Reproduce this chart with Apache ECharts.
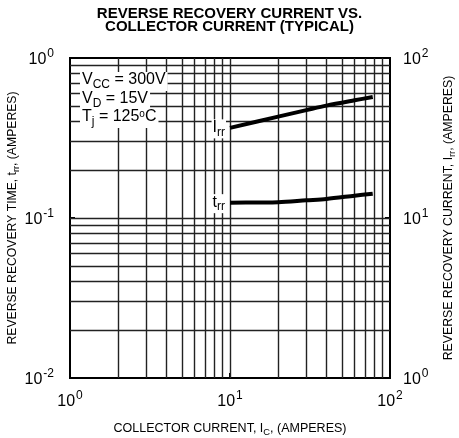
<!DOCTYPE html>
<html>
<head>
<meta charset="utf-8">
<script src="https://cdn.jsdelivr.net/npm/echarts@6/dist/echarts.min.js"></script>
<style>
html,body{margin:0;padding:0;background:#fff;}
#chart{width:459px;height:438px;}
</style>
</head>
<body>
<div id="chart"></div>
<script>
// ---- data ----
const titleLines = ['REVERSE RECOVERY CURRENT VS.', 'COLLECTOR CURRENT (TYPICAL)'];
const xTickExp = ['0', '1', '2'];        // 10^0 .. 10^2
const leftTickExp = ['-2', '-1', '0'];   // 10^-2 .. 10^0
const rightTickExp = ['0', '1', '2'];    // 10^0 .. 10^2
const xMinorGrid = [2, 3, 4, 5, 6, 7, 8, 9, 20, 30, 40, 50, 60, 70, 80, 90];
const yMinorGrid = [0.02, 0.03, 0.04, 0.05, 0.06, 0.07, 0.08, 0.09, 0.2, 0.3, 0.4, 0.5, 0.6, 0.7, 0.8, 0.9];
const xMajorGrid = [10];
const yMajorGrid = [0.1];
const trrIc = [10, 15, 20, 30, 40, 60, 78];
const trrValues = [0.1247, 0.125, 0.1254, 0.129, 0.1315, 0.1378, 0.1419];
const irrIc = [10, 20, 30, 40, 60, 78];
const irrValues = [36.6, 43.0, 47.2, 50.4, 54.4, 57.0];
const conditions = [
  '{t|V}{sub|CC}{t| = 300V}',
  '{t|V}{sub|D}{t| = 15V}',
  '{t|T}{sub|j}{t| = 125}{sup|o}{t|C}'
];

const FONT = '"Liberation Sans", Arial, Helvetica, sans-serif';
const chart = echarts.init(document.getElementById('chart'), null, {renderer: 'canvas'});

function expLabel(arr, minExp) {
  return function (v) {
    const e = Math.round(Math.log10(v));
    const s = arr[e - minExp];
    return s === undefined ? '' : '{b|10}{s|' + s + '}';
  };
}
const tickRich = {
  b: {fontSize: 16, fontFamily: FONT, color: '#000', lineHeight: 20, verticalAlign: 'bottom'},
  s: {fontSize: 12, fontFamily: FONT, color: '#000', lineHeight: 20, verticalAlign: 'top', padding: [0, 0, 0, 1]}
};
function nameRich(size) {
  return {
    n: {fontSize: size, fontFamily: FONT, color: '#000', lineHeight: 16, verticalAlign: 'middle'},
    sub: {fontSize: size * 0.75, fontFamily: FONT, color: '#000', lineHeight: 16, verticalAlign: 'bottom'}
  };
}
const labRich = {
  t: {fontSize: 16, fontFamily: FONT, color: '#000', lineHeight: 19, verticalAlign: 'top'},
  sub: {fontSize: 12, fontFamily: FONT, color: '#000', lineHeight: 19, verticalAlign: 'bottom'},
  sup: {fontSize: 10, fontFamily: FONT, color: '#000', lineHeight: 19, verticalAlign: 'top'}
};
const gridLine = {color: '#222', width: 1.4, type: 'solid'};

function firstLabel(text) {
  return {show: true, position: 'left', distance: 4, offset: [0, 1], formatter: text, rich: labRich, backgroundColor: '#fff', padding: [0, 1, 0, 1]};
}

const option = {
  animation: false,
  backgroundColor: '#fff',
  title: {
    text: titleLines.join('\n'),
    left: 'center',
    top: 2,
    textStyle: {fontFamily: FONT, fontWeight: 'bold', fontSize: 15, lineHeight: 13.5, color: '#000'}
  },
  grid: {left: 70, top: 58, width: 320, height: 320, show: true, borderColor: '#000', borderWidth: 2,
    backgroundColor: 'transparent', containLabel: false, outerBoundsMode: 'none'},
  xAxis: {
    type: 'log', logBase: 10, min: 1, max: 100,
    name: '{n|COLLECTOR CURRENT, I}{sub|C}{n|, (AMPERES)}',
    nameLocation: 'middle', nameGap: 43, nameMoveOverlap: false,
    nameTextStyle: {rich: nameRich(12.5)},
    axisLine: {show: true, lineStyle: {color: '#000', width: 2}},
    axisTick: {show: true, inside: true, length: 5, lineStyle: {color: '#000', width: 2}},
    axisLabel: {formatter: expLabel(xTickExp, 0), rich: tickRich, margin: 12, showMinLabel: true, showMaxLabel: true},
    splitLine: {show: false},
    minorTick: {show: false}, minorSplitLine: {show: false}
  },
  yAxis: [{
    type: 'log', logBase: 10, min: 0.01, max: 1,
    name: '{n|REVERSE RECOVERY TIME, t}{sub|rr}{n|, (AMPERES)}',
    nameLocation: 'middle', nameGap: 49, nameRotate: 90, nameMoveOverlap: false,
    nameTextStyle: {rich: nameRich(12.2)},
    axisLine: {show: true, lineStyle: {color: '#000', width: 2}},
    axisTick: {show: true, inside: true, length: 5, lineStyle: {color: '#000', width: 2}},
    axisLabel: {formatter: expLabel(leftTickExp, -2), rich: tickRich, margin: 16, showMinLabel: true, showMaxLabel: true},
    splitLine: {show: false}
  }, {
    type: 'log', logBase: 10, min: 1, max: 100, position: 'right',
    name: '{n|REVERSE RECOVERY CURRENT, I}{sub|rr}{n|, (AMPERES)}',
    nameLocation: 'middle', nameGap: 51, nameRotate: 90, nameMoveOverlap: false,
    nameTextStyle: {rich: nameRich(12.3)},
    axisLine: {show: true, lineStyle: {color: '#000', width: 2}},
    axisTick: {show: true, inside: true, length: 5, lineStyle: {color: '#000', width: 2}},
    axisLabel: {formatter: expLabel(rightTickExp, 0), rich: tickRich, margin: 13, showMinLabel: true, showMaxLabel: true},
    splitLine: {show: false}
  }],
  series: [{
    name: 'grid', type: 'line', xAxisIndex: 0, yAxisIndex: 0, data: [], z: 1, silent: true,
    markLine: {
      silent: true, symbol: ['none', 'none'], animation: false,
      label: {show: false},
      lineStyle: gridLine,
      emphasis: {disabled: true},
      data: xMinorGrid.concat(xMajorGrid).map(v => ({xAxis: v}))
        .concat(yMinorGrid.concat(yMajorGrid).map(v => ({yAxis: v})))
    }
  }, {
    name: 'trr', type: 'line', xAxisIndex: 0, yAxisIndex: 0, z: 5,
    smooth: 0.3, showSymbol: true, symbol: 'circle', symbolSize: 0,
    itemStyle: {color: 'transparent'},
    lineStyle: {color: '#000', width: 4, cap: 'butt'},
    label: {show: false},
    data: trrIc.map((x, i) => {
      const p = {value: [x, trrValues[i]]};
      if (i === 0) p.label = firstLabel('{t|t}{sub|rr}');
      return p;
    })
  }, {
    name: 'Irr', type: 'line', xAxisIndex: 0, yAxisIndex: 1, z: 5,
    smooth: 0.3, showSymbol: true, symbol: 'circle', symbolSize: 0,
    itemStyle: {color: 'transparent'},
    lineStyle: {color: '#000', width: 4, cap: 'butt'},
    label: {show: false},
    data: irrIc.map((x, i) => {
      const p = {value: [x, irrValues[i]]};
      if (i === 0) p.label = firstLabel('{t|I}{sub|rr}');
      return p;
    })
  }],
  graphic: conditions.map((c, i) => ({
    type: 'text', z: 100, left: 80, top: 72 + i * 18.5,
    style: {text: c, rich: labRich, backgroundColor: '#fff', padding: [0, 2]}
  }))
};
chart.setOption(option);
</script>
</body>
</html>
